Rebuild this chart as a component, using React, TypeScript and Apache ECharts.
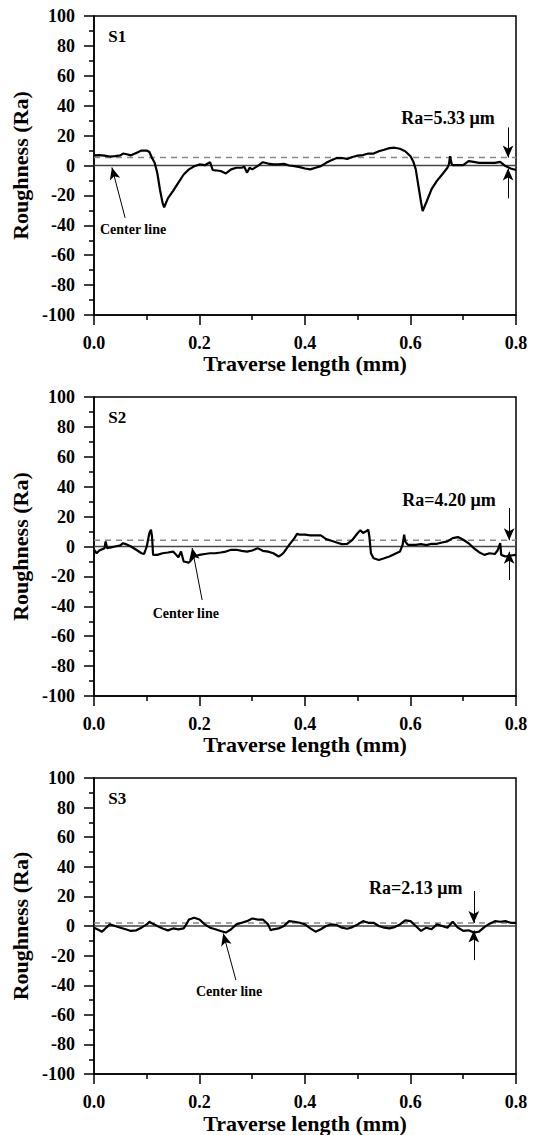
import React, { useEffect, useRef } from "react";
import * as echarts from "echarts";

// ---------- data ----------
const s1X = [0, 0.01, 0.02, 0.03, 0.04, 0.05, 0.055, 0.06, 0.07, 0.08, 0.09, 0.1, 0.105, 0.11, 0.115, 0.12, 0.125, 0.13, 0.133, 0.14, 0.15, 0.16, 0.17, 0.18, 0.19, 0.2, 0.21, 0.22, 0.225, 0.23, 0.24, 0.25, 0.26, 0.27, 0.28, 0.285, 0.29, 0.295, 0.3, 0.31, 0.32, 0.33, 0.34, 0.35, 0.36, 0.37, 0.38, 0.39, 0.4, 0.41, 0.42, 0.43, 0.44, 0.45, 0.46, 0.47, 0.48, 0.49, 0.5, 0.51, 0.52, 0.53, 0.54, 0.55, 0.56, 0.57, 0.58, 0.59, 0.6, 0.605, 0.61, 0.615, 0.62, 0.623, 0.63, 0.64, 0.65, 0.66, 0.67, 0.673, 0.675, 0.678, 0.68, 0.69, 0.7, 0.71, 0.72, 0.73, 0.74, 0.75, 0.76, 0.77, 0.78, 0.79, 0.8];
const s1Y = [6.8, 6.9, 6.6, 6.0, 6.3, 6.8, 8.0, 7.7, 6.8, 8.4, 10.0, 10.0, 9.0, 5.0, 1.8, -5.0, -16.0, -25.0, -28.0, -22.0, -17.0, -11.5, -6.0, -2.6, -0.5, 0.7, 0.2, 2.2, -3.0, -3.2, -3.7, -5.3, -2.6, -1.5, -1.5, -0.8, -4.8, -1.5, -2.6, -0.4, 2.2, 1.3, 0.7, 0.7, 1.1, 0.0, -0.4, -1.1, -2.0, -2.6, -1.5, -0.4, 1.8, 3.5, 5.0, 5.0, 4.4, 5.7, 6.6, 7.0, 8.0, 8.0, 9.5, 10.5, 11.6, 11.9, 11.2, 9.5, 6.2, 2.9, -2.6, -13.6, -24.6, -30.5, -24.6, -15.8, -10.3, -6.0, -1.5, 1.0, 6.2, 1.0, 0.2, 0.2, 0.2, 2.9, 2.4, 1.8, 1.8, 1.8, 1.8, 2.4, -0.4, -2.0, -3.0];

const s2X = [0, 0.005, 0.01, 0.02, 0.022, 0.025, 0.03, 0.04, 0.05, 0.055, 0.06, 0.07, 0.08, 0.09, 0.095, 0.1, 0.105, 0.108, 0.11, 0.112, 0.12, 0.13, 0.14, 0.15, 0.16, 0.165, 0.17, 0.18, 0.19, 0.2, 0.21, 0.22, 0.23, 0.24, 0.25, 0.26, 0.27, 0.28, 0.29, 0.3, 0.31, 0.32, 0.33, 0.34, 0.35, 0.355, 0.36, 0.37, 0.38, 0.385, 0.39, 0.4, 0.41, 0.42, 0.43, 0.44, 0.45, 0.46, 0.47, 0.48, 0.49, 0.5, 0.505, 0.51, 0.515, 0.52, 0.522, 0.525, 0.53, 0.54, 0.55, 0.56, 0.57, 0.58, 0.585, 0.588, 0.59, 0.595, 0.6, 0.61, 0.62, 0.63, 0.64, 0.65, 0.66, 0.67, 0.68, 0.69, 0.7, 0.71, 0.72, 0.73, 0.74, 0.75, 0.76, 0.765, 0.77, 0.772, 0.78, 0.79, 0.8];
const s2Y = [-2.2, -4.5, -2.7, -1.1, 3.4, -1.1, -0.7, 0.0, 0.7, 2.2, 1.6, 0.0, -2.2, -4.5, -5.0, 0.0, 9.0, 11.2, 6.7, -5.6, -5.6, -4.5, -4.0, -3.4, -7.2, -3.4, -10.0, -10.8, -6.7, -5.6, -5.0, -4.5, -4.5, -4.0, -3.4, -2.2, -2.2, -2.9, -3.4, -2.7, -1.1, -2.9, -3.4, -4.5, -6.7, -5.6, -4.0, 1.1, 5.6, 8.5, 7.9, 7.9, 7.4, 7.4, 7.4, 4.9, 3.8, 2.7, 1.6, 1.8, 4.5, 9.0, 10.8, 9.0, 10.0, 11.2, 6.7, -4.5, -7.9, -9.0, -7.9, -6.7, -5.0, -3.4, 1.1, 7.9, 3.4, 1.1, 1.1, 1.1, 1.6, 0.9, 1.8, 1.8, 2.7, 3.4, 5.6, 6.3, 4.5, 2.2, -1.1, -3.8, -5.6, -4.5, -5.0, -2.7, 2.2, -5.6, -6.7, -6.0, -5.6];

const s3X = [0, 0.01, 0.015, 0.02, 0.03, 0.04, 0.05, 0.06, 0.07, 0.08, 0.09, 0.1, 0.105, 0.11, 0.12, 0.13, 0.14, 0.15, 0.16, 0.17, 0.175, 0.18, 0.19, 0.2, 0.21, 0.22, 0.23, 0.24, 0.25, 0.26, 0.27, 0.28, 0.29, 0.3, 0.31, 0.32, 0.33, 0.335, 0.34, 0.35, 0.36, 0.37, 0.38, 0.39, 0.4, 0.41, 0.42, 0.43, 0.44, 0.45, 0.46, 0.47, 0.48, 0.49, 0.5, 0.51, 0.52, 0.53, 0.54, 0.55, 0.56, 0.57, 0.58, 0.59, 0.6, 0.61, 0.62, 0.63, 0.64, 0.65, 0.66, 0.67, 0.68, 0.69, 0.7, 0.71, 0.72, 0.73, 0.74, 0.75, 0.76, 0.77, 0.78, 0.79, 0.8];
const s3Y = [-1.1, -2.9, -3.8, -2.2, 1.1, 0.0, -1.1, -2.2, -3.3, -2.9, -1.1, 1.1, 2.9, 1.8, 0.0, -1.6, -2.9, -1.6, -2.2, -1.6, 1.1, 4.4, 5.6, 4.4, 1.1, -1.1, -2.2, -3.3, -4.4, -2.2, 1.1, 2.2, 3.3, 5.1, 4.4, 4.4, 1.1, -2.9, -2.2, -1.6, 0.0, 3.3, 2.9, 2.2, 1.1, -1.6, -3.8, -2.2, 0.0, 1.1, 0.7, -1.1, -1.8, -0.7, 1.1, 3.3, 2.2, 2.2, 0.0, -1.1, -1.6, -0.7, 1.1, 3.8, 3.3, 0.0, -3.3, -1.1, -2.2, 1.1, 0.0, -1.1, 2.9, -1.1, -3.3, -2.9, -4.4, -3.8, -0.7, 1.6, 3.3, 2.9, 3.3, 2.2, 2.2];

const sampleNames = ["S1", "S2", "S3"];
const raValues = [5.33, 4.2, 2.13];
const raLabels = ["Ra=5.33 \u03bcm", "Ra=4.20 \u03bcm", "Ra=2.13 \u03bcm"];
const xTicks = [0, 0.2, 0.4, 0.6, 0.8];
const yTicks = [-100, -80, -60, -40, -20, 0, 20, 40, 60, 80, 100];

// annotation anchors in data units
const raArrowX = [0.785, 0.787, 0.72];
const raArrowTail = [25.5, 25.7, 23.7];
const zeroArrowTail = [-22, -22.4, -23];
const zeroArrowTip = [-2, -3.5, -3];
const raLabelPos = [[0.671, 31.5], [0.673, 31], [0.61, 26]];
const centerArrowTip = [[0.034, -1.3], [0.186, -1], [0.245, -5]];
const centerArrowTail = [[0.059, -35], [0.205, -35.8], [0.269, -36.5]];
const centerLabelPos = [[0.074, -42.5], [0.174, -44.5], [0.256, -44.5]];
const sLabelPos = [0.027, 86];

const profilesX = [s1X, s2X, s3X];
const profilesY = [s1Y, s2Y, s3Y];

const gridTops = [16, 397, 778];
const FONT = "'Liberation Serif', 'Times New Roman', serif";

export default function App() {
  const ref = useRef<HTMLDivElement>(null);
  useEffect(() => {
    if (!ref.current) return;
    const chart = echarts.init(ref.current, undefined, { renderer: "svg" });
    const grids = gridTops.map((t) => ({
      left: 94,
      top: t,
      width: 422,
      height: 299,
      show: true,
      borderColor: "#000",
      borderWidth: 1.5,
    }));
    const xAxes = gridTops.map((_, i) => ({
      type: "value",
      gridIndex: i,
      min: xTicks[0],
      max: xTicks[xTicks.length - 1],
      interval: 0.2,
      name: "Traverse length (mm)",
      nameLocation: "middle",
      nameGap: 36,
      nameTextStyle: { fontFamily: FONT, fontWeight: "bold", fontSize: 22, color: "#000" },
      axisLine: { onZero: false, lineStyle: { color: "#000", width: 1.5 } },
      axisTick: { length: 10, lineStyle: { color: "#000", width: 1.5 } },
      minorTick: { show: true, splitNumber: 2, length: 5, lineStyle: { color: "#000", width: 1.5 } },
      splitLine: { show: false },
      axisLabel: {
        margin: 19,
        fontFamily: FONT,
        fontWeight: "bold",
        fontSize: 18,
        color: "#000",
        formatter: (v: number) => v.toFixed(1),
      },
    }));
    const yAxes = gridTops.map((_, i) => ({
      type: "value",
      gridIndex: i,
      min: yTicks[0],
      max: yTicks[yTicks.length - 1],
      interval: 20,
      name: "Roughness (Ra)",
      nameLocation: "middle",
      nameGap: 56,
      nameTextStyle: { fontFamily: FONT, fontWeight: "bold", fontSize: 22, color: "#000" },
      axisLine: { onZero: false, lineStyle: { color: "#000", width: 1.5 } },
      axisTick: { length: 10, lineStyle: { color: "#000", width: 1.5 } },
      minorTick: { show: true, splitNumber: 2, length: 5, lineStyle: { color: "#000", width: 1.5 } },
      splitLine: { show: false },
      axisLabel: { margin: 19, fontFamily: FONT, fontWeight: "bold", fontSize: 18, color: "#000" },
    }));
    const series: any[] = [];
    gridTops.forEach((_, i) => {
      const x0 = xTicks[0];
      const x1 = xTicks[xTicks.length - 1];
      series.push({
        type: "line",
        xAxisIndex: i,
        yAxisIndex: i,
        data: [[x0, 0], [x1, 0]],
        showSymbol: false,
        silent: true,
        lineStyle: { color: "#444", width: 1.5 },
        z: 2,
        markLine: {
          silent: true,
          symbol: ["none", "arrow"],
          symbolSize: [8, 12],
          label: { show: false },
          lineStyle: { color: "#000", width: 1, type: "solid" },
          data: [
            [{ coord: [raArrowX[i], raArrowTail[i]] }, { coord: [raArrowX[i], raValues[i]] }],
            [{ coord: [raArrowX[i], zeroArrowTail[i]] }, { coord: [raArrowX[i], zeroArrowTip[i]] }],
            [{ coord: centerArrowTail[i] }, { coord: centerArrowTip[i] }],
          ],
        },
      });
      series.push({
        type: "line",
        xAxisIndex: i,
        yAxisIndex: i,
        data: [[x0, raValues[i]], [x1, raValues[i]]],
        showSymbol: false,
        silent: true,
        lineStyle: { color: "#888", width: 1.5, type: [6, 5] },
        z: 2,
      });
      series.push({
        type: "line",
        xAxisIndex: i,
        yAxisIndex: i,
        data: profilesX[i].map((x, k) => [x, profilesY[i][k]]),
        showSymbol: false,
        silent: true,
        lineStyle: { color: "#000", width: 2.2 },
        z: 3,
      });
    });
    chart.setOption({
      animation: false,
      backgroundColor: "#fff",
      grid: grids,
      xAxis: xAxes,
      yAxis: yAxes,
      series,
    });
    const graphics: any[] = [];
    gridTops.forEach((_, i) => {
      const sp = chart.convertToPixel({ gridIndex: i }, sLabelPos) as number[];
      graphics.push({
        type: "text",
        x: sp[0],
        y: sp[1],
        style: { text: sampleNames[i], fontFamily: FONT, fontWeight: "bold", fontSize: 17, fill: "#000", align: "left", verticalAlign: "middle" },
      });
      const rp = chart.convertToPixel({ gridIndex: i }, raLabelPos[i]) as number[];
      graphics.push({
        type: "text",
        x: rp[0],
        y: rp[1],
        style: { text: raLabels[i], fontFamily: FONT, fontWeight: "bold", fontSize: 18, fill: "#000", align: "center", verticalAlign: "middle" },
      });
      const cp = chart.convertToPixel({ gridIndex: i }, centerLabelPos[i]) as number[];
      graphics.push({
        type: "text",
        x: cp[0],
        y: cp[1],
        style: { text: "Center line", fontFamily: FONT, fontWeight: "bold", fontSize: 14, fill: "#000", align: "center", verticalAlign: "middle" },
      });
    });
    chart.setOption({ graphic: graphics });
    return () => chart.dispose();
  }, []);
  return (
    <div
      ref={ref}
      style={{ position: "absolute", left: 0, top: 0, width: 534, height: 1135, background: "#fff" }}
    />
  );
}
